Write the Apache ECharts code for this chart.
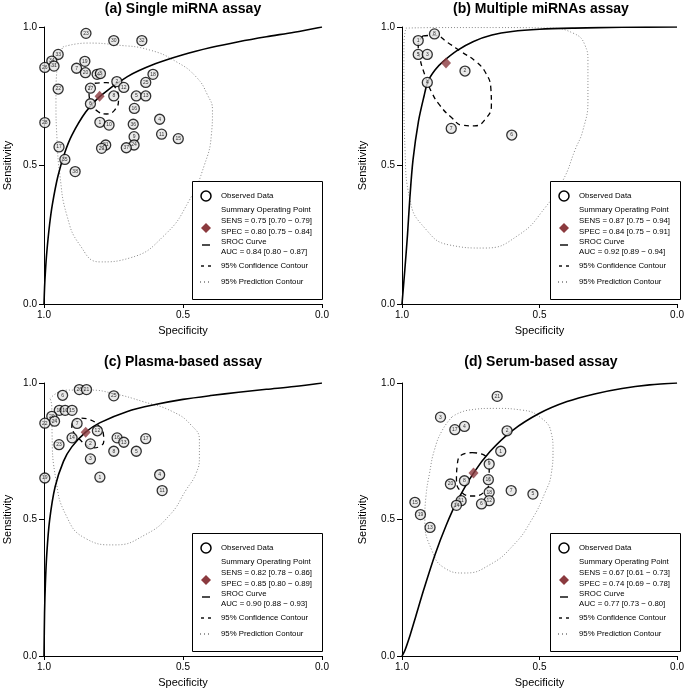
<!DOCTYPE html>
<html>
<head>
<meta charset="utf-8">
<script src="https://cdn.jsdelivr.net/npm/echarts@6/dist/echarts.min.js"></script>
<style>
  html, body { margin: 0; padding: 0; background: #fff; }
  #chart { width: 687px; height: 695px; }
</style>
</head>
<body>
<div id="chart"></div>
<script>
var FONT = '"Liberation Sans", Arial, Helvetica, sans-serif';

var titles = ['(a) Single miRNA assay', '(b) Multiple miRNAs assay', '(c) Plasma-based assay', '(d) Serum-based assay'];
var axisTicks = [0, 0.5, 1];

// every point is [specificity, sensitivity(, study no.)]
// (a) single miRNA
var studiesA = [
    [0.849, 0.977, 23], [0.749, 0.951, 30], [0.648, 0.951, 32], [0.949, 0.901, 33], [0.972, 0.877, 34],
    [0.997, 0.854, 26], [0.964, 0.859, 31], [0.853, 0.876, 19], [0.883, 0.851, 7], [0.851, 0.835, 20],
    [0.809, 0.829, 14], [0.797, 0.832, 3], [0.949, 0.776, 22], [0.833, 0.779, 27], [0.833, 0.723, 6],
    [0.738, 0.803, 2], [0.713, 0.782, 12], [0.749, 0.751, 8], [0.608, 0.829, 18], [0.634, 0.800, 25],
    [0.668, 0.751, 5], [0.634, 0.751, 13], [0.675, 0.706, 16], [0.584, 0.667, 4], [0.997, 0.655, 28],
    [0.799, 0.656, 1], [0.766, 0.646, 10], [0.679, 0.649, 36], [0.577, 0.613, 11], [0.517, 0.597, 15],
    [0.676, 0.604, 9], [0.676, 0.574, 24], [0.704, 0.564, 37], [0.778, 0.574, 21], [0.793, 0.562, 29],
    [0.946, 0.567, 17], [0.925, 0.522, 35], [0.888, 0.478, 38]
];
var summaryA = [0.80, 0.75];
var srocA = [
    [1.0, 0.0], [0.998, 0.059], [0.995, 0.116], [0.99, 0.186], [0.98, 0.286], [0.97, 0.359], [0.95, 0.461],
    [0.925, 0.547], [0.9, 0.609], [0.85, 0.693], [0.8, 0.749], [0.7, 0.821], [0.6, 0.867], [0.5, 0.900],
    [0.4, 0.926], [0.3, 0.947], [0.2, 0.965], [0.1, 0.981], [0.0, 1.0]
];
var confA = [
    [0.817, 0.797], [0.775, 0.799], [0.742, 0.779], [0.732, 0.736], [0.746, 0.700], [0.775, 0.686],
    [0.805, 0.694], [0.829, 0.725], [0.838, 0.761], [0.835, 0.785], [0.817, 0.797]
];
var predA = [
    [0.932, 0.928], [0.846, 0.942], [0.738, 0.935], [0.620, 0.917], [0.523, 0.874], [0.452, 0.819],
    [0.412, 0.755], [0.394, 0.700], [0.398, 0.610], [0.423, 0.502], [0.477, 0.375], [0.566, 0.249],
    [0.692, 0.166], [0.799, 0.152], [0.871, 0.213], [0.918, 0.321], [0.943, 0.466], [0.953, 0.592],
    [0.957, 0.736], [0.953, 0.856], [0.932, 0.928]
];
var legendA = ['SENS = 0.75 [0.70 \u2212 0.79]', 'SPEC = 0.80 [0.75 \u2212 0.84]', 'AUC = 0.84 [0.80 \u2212 0.87]'];

// (b) multiple miRNAs
var studiesB = [
    [0.882, 0.975, 8], [0.941, 0.951, 1], [0.941, 0.901, 5], [0.908, 0.901, 3],
    [0.908, 0.800, 4], [0.771, 0.841, 2], [0.821, 0.634, 7], [0.601, 0.610, 6]
];
var summaryB = [0.84, 0.87];
var srocB = [
    [1.0, 0.0], [0.99, 0.12], [0.98, 0.25], [0.972, 0.375], [0.96, 0.52], [0.94, 0.66], [0.92, 0.75],
    [0.906, 0.803], [0.88, 0.845], [0.851, 0.875], [0.8, 0.915], [0.74, 0.948], [0.673, 0.971],
    [0.6, 0.984], [0.5, 0.992], [0.373, 0.996], [0.2, 0.999], [0.0, 1.0]
];
var confB = [
    [0.923, 0.968], [0.881, 0.970], [0.833, 0.943], [0.785, 0.911], [0.731, 0.875], [0.695, 0.833],
    [0.677, 0.779], [0.675, 0.718], [0.695, 0.670], [0.737, 0.643], [0.779, 0.645], [0.821, 0.674],
    [0.863, 0.718], [0.893, 0.766], [0.917, 0.827], [0.935, 0.887], [0.941, 0.935], [0.923, 0.968]
];
var predB = [
    [0.986, 0.996], [0.863, 0.998], [0.647, 0.998], [0.468, 0.996], [0.378, 0.978], [0.335, 0.935],
    [0.324, 0.874], [0.324, 0.736], [0.342, 0.628], [0.371, 0.556], [0.414, 0.448], [0.478, 0.350],
    [0.576, 0.249], [0.701, 0.202], [0.827, 0.213], [0.917, 0.274], [0.971, 0.375], [0.989, 0.556],
    [0.993, 0.773], [0.993, 0.935], [0.986, 0.996]
];
var legendB = ['SENS = 0.87 [0.75 \u2212 0.94]', 'SPEC = 0.84 [0.75 \u2212 0.91]', 'AUC = 0.92 [0.89 \u2212 0.94]'];

// (c) plasma
var studiesC = [
    [0.873, 0.976, 26], [0.847, 0.976, 21], [0.933, 0.955, 6], [0.749, 0.953, 25], [0.945, 0.900, 18],
    [0.924, 0.900, 10], [0.899, 0.900, 15], [0.972, 0.878, 20], [0.962, 0.860, 24], [0.997, 0.853, 22],
    [0.881, 0.852, 7], [0.808, 0.825, 12], [0.899, 0.799, 14], [0.946, 0.774, 23], [0.833, 0.777, 2],
    [0.737, 0.799, 16], [0.713, 0.783, 13], [0.634, 0.796, 17], [0.749, 0.750, 8], [0.668, 0.750, 5],
    [0.833, 0.722, 3], [0.997, 0.652, 19], [0.799, 0.655, 1], [0.584, 0.664, 4], [0.575, 0.606, 11]
];
var summaryC = [0.85, 0.82];
var srocC = [
    [1.0, 0.0], [0.998, 0.159], [0.995, 0.266], [0.99, 0.374], [0.98, 0.496], [0.96, 0.620], [0.93, 0.713],
    [0.9, 0.766], [0.85, 0.820], [0.8, 0.854], [0.7, 0.896], [0.6, 0.921], [0.5, 0.940], [0.4, 0.954],
    [0.3, 0.966], [0.2, 0.977], [0.1, 0.987], [0.0, 1.0]
];
var confC = [
    [0.895, 0.860], [0.865, 0.871], [0.835, 0.866], [0.805, 0.845], [0.787, 0.817], [0.785, 0.786],
    [0.799, 0.768], [0.825, 0.762], [0.849, 0.774], [0.873, 0.795], [0.892, 0.817], [0.900, 0.842],
    [0.895, 0.860]
];
var predC = [
    [0.978, 0.944], [0.919, 0.974], [0.835, 0.974], [0.752, 0.962], [0.644, 0.932], [0.537, 0.895],
    [0.471, 0.846], [0.441, 0.791], [0.441, 0.730], [0.453, 0.669], [0.489, 0.608], [0.548, 0.516],
    [0.638, 0.443], [0.746, 0.407], [0.853, 0.432], [0.921, 0.516], [0.957, 0.645], [0.971, 0.817],
    [0.972, 0.913], [0.978, 0.944]
];
var legendC = ['SENS = 0.82 [0.78 \u2212 0.86]', 'SPEC = 0.85 [0.80 \u2212 0.89]', 'AUC = 0.90 [0.88 \u2212 0.93]'];

// (d) serum
var studiesD = [
    [0.654, 0.951, 21], [0.860, 0.875, 3], [0.808, 0.829, 17], [0.773, 0.841, 4], [0.618, 0.825, 2],
    [0.641, 0.750, 1], [0.683, 0.703, 9], [0.686, 0.646, 16], [0.824, 0.630, 20], [0.773, 0.642, 8],
    [0.603, 0.606, 7], [0.524, 0.593, 5], [0.683, 0.600, 18], [0.683, 0.569, 12], [0.711, 0.557, 6],
    [0.785, 0.569, 11], [0.802, 0.552, 14], [0.953, 0.563, 15], [0.933, 0.518, 19], [0.898, 0.471, 13]
];
var summaryD = [0.74, 0.67];
var srocD = [
    [1.0, 0.0], [0.99, 0.019], [0.97, 0.078], [0.95, 0.145], [0.92, 0.246], [0.88, 0.371], [0.84, 0.477],
    [0.8, 0.566], [0.74, 0.670], [0.68, 0.749], [0.6, 0.825], [0.5, 0.889], [0.4, 0.932], [0.3, 0.960],
    [0.2, 0.980], [0.1, 0.993], [0.0, 1.0]
];
var confD = [
    [0.745, 0.745], [0.701, 0.736], [0.683, 0.700], [0.683, 0.645], [0.701, 0.601], [0.745, 0.586],
    [0.784, 0.601], [0.802, 0.645], [0.799, 0.700], [0.784, 0.736], [0.745, 0.745]
];
var predD = [
    [0.817, 0.877], [0.756, 0.901], [0.661, 0.907], [0.565, 0.901], [0.493, 0.871], [0.457, 0.816],
    [0.451, 0.755], [0.457, 0.669], [0.481, 0.596], [0.529, 0.498], [0.594, 0.407], [0.683, 0.333],
    [0.773, 0.304], [0.845, 0.322], [0.892, 0.388], [0.917, 0.498], [0.913, 0.584], [0.900, 0.669],
    [0.882, 0.755], [0.853, 0.828], [0.817, 0.877]
];
var legendD = ['SENS = 0.67 [0.61 \u2212 0.73]', 'SPEC = 0.74 [0.69 \u2212 0.78]', 'AUC = 0.77 [0.73 \u2212 0.80]'];

var panels = [
    {studies: studiesA, summary: summaryA, sroc: srocA, conf: confA, pred: predA, legend: legendA,
     left: 44, top: 27, width: 278, height: 277, nameGap: 31},
    {studies: studiesB, summary: summaryB, sroc: srocB, conf: confB, pred: predB, legend: legendB,
     left: 402, top: 27, width: 278, height: 277, nameGap: 34},
    {studies: studiesC, summary: summaryC, sroc: srocC, conf: confC, pred: predC, legend: legendC,
     left: 44, top: 383, width: 278, height: 273, nameGap: 31},
    {studies: studiesD, summary: summaryD, sroc: srocD, conf: confD, pred: predD, legend: legendD,
     left: 402, top: 383, width: 278, height: 273, nameGap: 34}
];

var myChart = echarts.init(document.getElementById('chart'), null, {renderer: 'canvas'});

var grids = [], xAxes = [], yAxes = [], series = [], elements = [];
var RED = '#8b3a3e';

function legendBox(p) {
    var bw = 130, bh = 118;
    var bx = p.left + p.width - bw;
    var by = p.top + p.height - 5 - bh;
    var tx = bx + 29, sx = bx + 14;
    var txt = function (s, y) {
        return {type: 'text', z: 101, x: tx, y: by + y,
            style: {text: s, fill: '#000', fontSize: 7.8, fontFamily: FONT, align: 'left', verticalAlign: 'middle'}};
    };
    var seg = function (x1, x2, y, dash, color) {
        return {type: 'line', z: 101, shape: {x1: x1, y1: by + y, x2: x2, y2: by + y},
            style: {stroke: color || '#000', lineWidth: 1.4, lineDash: dash || null}};
    };
    elements.push(
        {type: 'rect', z: 100, shape: {x: bx + 0.5, y: by + 0.5, width: bw, height: bh},
            style: {fill: '#fff', stroke: '#000', lineWidth: 1}},
        {type: 'circle', z: 101, shape: {cx: sx, cy: by + 15, r: 5}, style: {fill: '#fff', stroke: '#000', lineWidth: 1.5}},
        txt('Observed Data', 15),
        {type: 'polygon', z: 101, shape: {points: [[sx, by + 42], [sx + 5, by + 47], [sx, by + 52], [sx - 5, by + 47]]},
            style: {fill: RED}},
        txt('Summary Operating Point', 29),
        txt(p.legend[0], 40),
        txt(p.legend[1], 51),
        seg(sx - 4, sx + 4, 64),
        txt('SROC Curve', 61),
        txt(p.legend[2], 71),
        seg(sx - 5, sx - 2, 85), seg(sx + 2, sx + 5, 85),
        txt('95% Confidence Contour', 85),
        seg(sx - 6, sx + 6, 101, [1, 3], '#777'),
        txt('95% Prediction Contour', 101)
    );
}

panels.forEach(function (p, i) {
    grids.push({left: p.left, top: p.top, width: p.width, height: p.height, containLabel: false});
    xAxes.push({
        gridIndex: i, type: 'value', inverse: true, min: axisTicks[0], max: axisTicks[2], interval: 0.5,
        name: 'Specificity', nameLocation: 'middle', nameGap: 21,
        nameTextStyle: {color: '#000', fontSize: 11, fontFamily: FONT},
        axisLine: {show: true, onZero: false, lineStyle: {color: '#000', width: 1}},
        axisTick: {show: true, length: 4, lineStyle: {color: '#000'}},
        axisLabel: {color: '#000', fontSize: 10, fontFamily: FONT, margin: 6,
            formatter: function (v) { return v.toFixed(1); }},
        splitLine: {show: false}
    });
    yAxes.push({
        gridIndex: i, type: 'value', min: axisTicks[0], max: axisTicks[2], interval: 0.5,
        name: 'Sensitivity', nameLocation: 'middle', nameGap: p.nameGap,
        nameTextStyle: {color: '#000', fontSize: 11, fontFamily: FONT},
        axisLine: {show: true, onZero: false, lineStyle: {color: '#000', width: 1}},
        axisTick: {show: true, length: 5, lineStyle: {color: '#000'}},
        axisLabel: {color: '#000', fontSize: 10, fontFamily: FONT, margin: 7,
            formatter: function (v) { return v.toFixed(1); }},
        splitLine: {show: false}
    });
    series.push(
        {type: 'line', xAxisIndex: i, yAxisIndex: i, data: p.pred, smooth: 0.5, showSymbol: false, silent: true,
            lineStyle: {color: '#888', width: 1, type: [1, 2]}, z: 2},
        {type: 'line', xAxisIndex: i, yAxisIndex: i, data: p.sroc, smooth: 0.3, showSymbol: false, silent: true,
            lineStyle: {color: '#000', width: 1.6}, z: 3},
        {type: 'line', xAxisIndex: i, yAxisIndex: i, data: p.conf, smooth: 0.5, showSymbol: false, silent: true,
            lineStyle: {color: '#000', width: 1.3, type: [5, 4]}, z: 3},
        {type: 'scatter', xAxisIndex: i, yAxisIndex: i, data: p.studies, symbol: 'circle', symbolSize: 10,
            itemStyle: {color: '#e4e4e4', borderColor: '#000', borderWidth: 1.3}, z: 4,
            label: {show: true, position: 'inside', fontSize: 5, color: '#000', fontFamily: FONT,
                formatter: function (d) { return d.value[2]; }}},
        {type: 'scatter', xAxisIndex: i, yAxisIndex: i, data: [p.summary], symbol: 'diamond', symbolSize: [10, 11],
            itemStyle: {color: RED}, z: 5}
    );
    elements.push({type: 'text', z: 100, x: p.left + p.width / 2, y: p.top - (i < 2 ? 18 : 21),
        style: {text: titles[i], fill: '#000', fontSize: 14, fontWeight: 'bold', fontFamily: FONT,
            align: 'center', verticalAlign: 'middle'}});
    legendBox(p);
});

myChart.setOption({
    animation: false,
    backgroundColor: '#fff',
    grid: grids,
    xAxis: xAxes,
    yAxis: yAxes,
    series: series,
    graphic: {elements: elements}
});
</script>
</body>
</html>
